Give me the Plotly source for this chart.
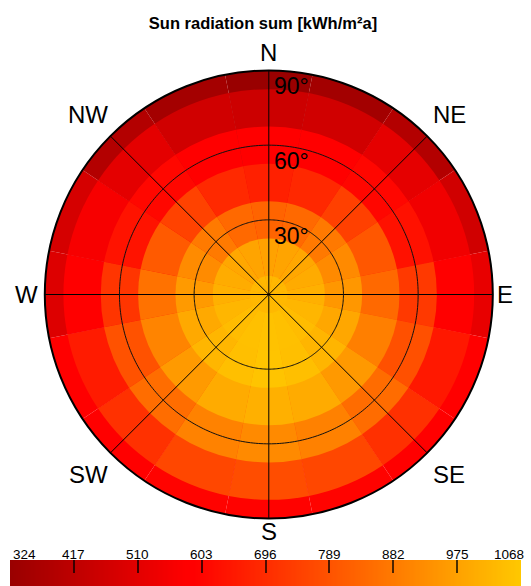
import numpy as np
import plotly.graph_objects as go

# Azimuth sectors (degrees clockwise from north) and tilt rings (degrees)
azimuth = [0, 22.5, 45, 67.5, 90, 112.5, 135, 157.5, 180,
           202.5, 225, 247.5, 270, 292.5, 315, 337.5]
tilts = [15, 30, 45, 60, 75, 90]

# Yearly radiation sum [kWh/m²a] per tilt, ordered like `azimuth`
horizontal = 1030
tilt_15 = [978, 982, 990, 1000, 1010, 1025, 1040, 1050, 1054, 1050, 1040, 1026, 1012, 1001, 990, 982]
tilt_30 = [830, 842, 880, 920, 952, 990, 1022, 1046, 1058, 1046, 1024, 994, 958, 922, 882, 842]
tilt_45 = [668, 688, 744, 800, 843, 895, 955, 998, 1011, 1000, 958, 905, 863, 806, 748, 690]
tilt_60 = [585, 592, 605, 632, 728, 782, 850, 900, 920, 902, 852, 788, 718, 636, 608, 592]
tilt_75 = [452, 462, 515, 545, 585, 650, 705, 760, 775, 762, 708, 655, 585, 560, 512, 462]
tilt_90 = [324, 350, 390, 462, 523, 580, 592, 598, 596, 598, 592, 582, 495, 474, 390, 352]
ring_values = [tilt_15, tilt_30, tilt_45, tilt_60, tilt_75, tilt_90]

color_min, color_max = 324, 1068
tick_values = [324, 417, 510, 603, 696, 789, 882, 975, 1068]
grid_circles = [30, 60]
ring_label_values = [30, 60, 90]
compass_names = ["N", "NE", "E", "SE", "S", "SW", "W", "NW"]

W, H = 531, 586
FONT = "Liberation Sans, Arial, sans-serif"

colorscale = [
    [0.0, "#990000"],
    [0.345, "#ff0000"],
    [0.36, "#ff0000"],
    [1.0, "#ffc800"],
]

# polar disc geometry in pixels
cx, cy, R = 268.8, 294.5, 224.0
sector = 360 / len(azimuth)
half_ring = 7.5
n = len(azimuth)

fig = go.Figure()

# Each tilt is drawn as a wedge from the centre out to its outer edge,
# outermost first, so inner rings cover the rest without seams between rings.
for t, vals in reversed(list(zip(tilts, ring_values))):
    hi = min(t + half_ring, 90)
    fig.add_trace(go.Barpolar(
        theta=azimuth, r=[hi] * n, base=[0] * n, width=[sector] * n,
        marker=dict(color=vals, coloraxis="coloraxis", line=dict(width=0)),
        hoverinfo="skip", subplot="polar",
    ))

# centre disc (horizontal surface)
fig.add_trace(go.Barpolar(
    theta=azimuth, r=[half_ring] * n, base=[0] * n, width=[sector] * n,
    marker=dict(color=[horizontal] * n, coloraxis="coloraxis", line=dict(width=0)),
    hoverinfo="skip", subplot="polar",
))

# black grid lines on top of the cells: 45° spokes and tilt circles
for a in [0, 45, 90, 135]:
    fig.add_trace(go.Scatterpolar(
        r=[90, 0, 90], theta=[a, a, a + 180], mode="lines",
        line=dict(color="black", width=1), hoverinfo="skip", showlegend=False,
    ))
circle_theta = np.linspace(0, 360, 361)
for rc in grid_circles:
    fig.add_trace(go.Scatterpolar(
        r=[rc] * len(circle_theta), theta=circle_theta, mode="lines",
        line=dict(color="#111111", width=1), hoverinfo="skip", showlegend=False,
    ))

# colour bar strip drawn as a heatmap on its own axes
strip = np.linspace(color_min, color_max, 400)
fig.add_trace(go.Heatmap(
    x=strip, y=[0], z=[strip], coloraxis="coloraxis",
    xaxis="x", yaxis="y", hoverinfo="skip",
))

bar_x0, bar_x1 = 10 / W, 521 / W
bar_h = 26 / H

fig.update_layout(
    width=W, height=H,
    margin=dict(l=0, r=0, t=0, b=0),
    paper_bgcolor="white",
    showlegend=False,
    coloraxis=dict(colorscale=colorscale, cmin=color_min, cmax=color_max, showscale=False),
    polar=dict(
        domain=dict(x=[(cx - R) / W, (cx + R) / W], y=[(H - cy - R) / H, (H - cy + R) / H]),
        bgcolor="white",
        bargap=0,
        radialaxis=dict(range=[0, 90], showgrid=False, showline=False,
                        showticklabels=False, ticks=""),
        angularaxis=dict(direction="clockwise", rotation=90, showgrid=False,
                         showticklabels=False, ticks="", showline=True,
                         linecolor="black", linewidth=2, layer="above traces"),
    ),
    xaxis=dict(domain=[bar_x0, bar_x1], range=[color_min, color_max], side="top",
               anchor="y", tickvals=tick_values, ticks="inside", ticklen=13,
               tickwidth=1.5, tickcolor="rgba(0,0,0,0.7)", showticklabels=False,
               showgrid=False, zeroline=False, showline=False, fixedrange=True),
    yaxis=dict(domain=[0, bar_h], range=[-0.5, 0.5], visible=False, fixedrange=True),
    title=dict(text="<b>Sun radiation sum [kWh/m²a]</b>", x=263 / W, xanchor="center",
               y=1 - 23 / H, yanchor="middle",
               font=dict(family=FONT, size=16.5, color="black")),
)

annotations = []
# tilt labels just below each circle, right of the north spoke
for v in ring_label_values:
    py = cy - v / 90 * R
    annotations.append(dict(
        text=f"{v}°", x=(cx + 3) / W, y=1 - (py + 1) / H, xref="paper", yref="paper",
        xanchor="left", yanchor="top", showarrow=False,
        font=dict(family=FONT, size=23, color="black"),
    ))

# compass directions around the disc
offsets = {"N": (0, 242), "NE": (45, 255), "E": (90, 236), "SE": (135, 255),
           "S": (180, 237), "SW": (225, 255), "W": (270, 242), "NW": (315, 255)}
for name in compass_names:
    ang, dist = offsets[name]
    px = cx + dist * np.sin(np.radians(ang))
    py = cy - dist * np.cos(np.radians(ang))
    annotations.append(dict(
        text=name, x=px / W, y=1 - py / H, xref="paper", yref="paper",
        xanchor="center", yanchor="middle", showarrow=False,
        font=dict(family=FONT, size=24, color="black"),
    ))

# colour bar tick labels above the strip
for i, v in enumerate(tick_values):
    anchor, shift = "center", 0
    if i == 0:
        anchor, shift = "left", 1
    elif i == len(tick_values) - 1:
        anchor, shift = "right", 5
    annotations.append(dict(
        text=str(v), x=v, xref="x", y=(H - 554.5) / H, yref="paper",
        xanchor=anchor, yanchor="middle", xshift=shift, showarrow=False,
        font=dict(family=FONT, size=13.5, color="black"),
    ))

fig.update_layout(annotations=annotations)

fig.write_html("out.html")
